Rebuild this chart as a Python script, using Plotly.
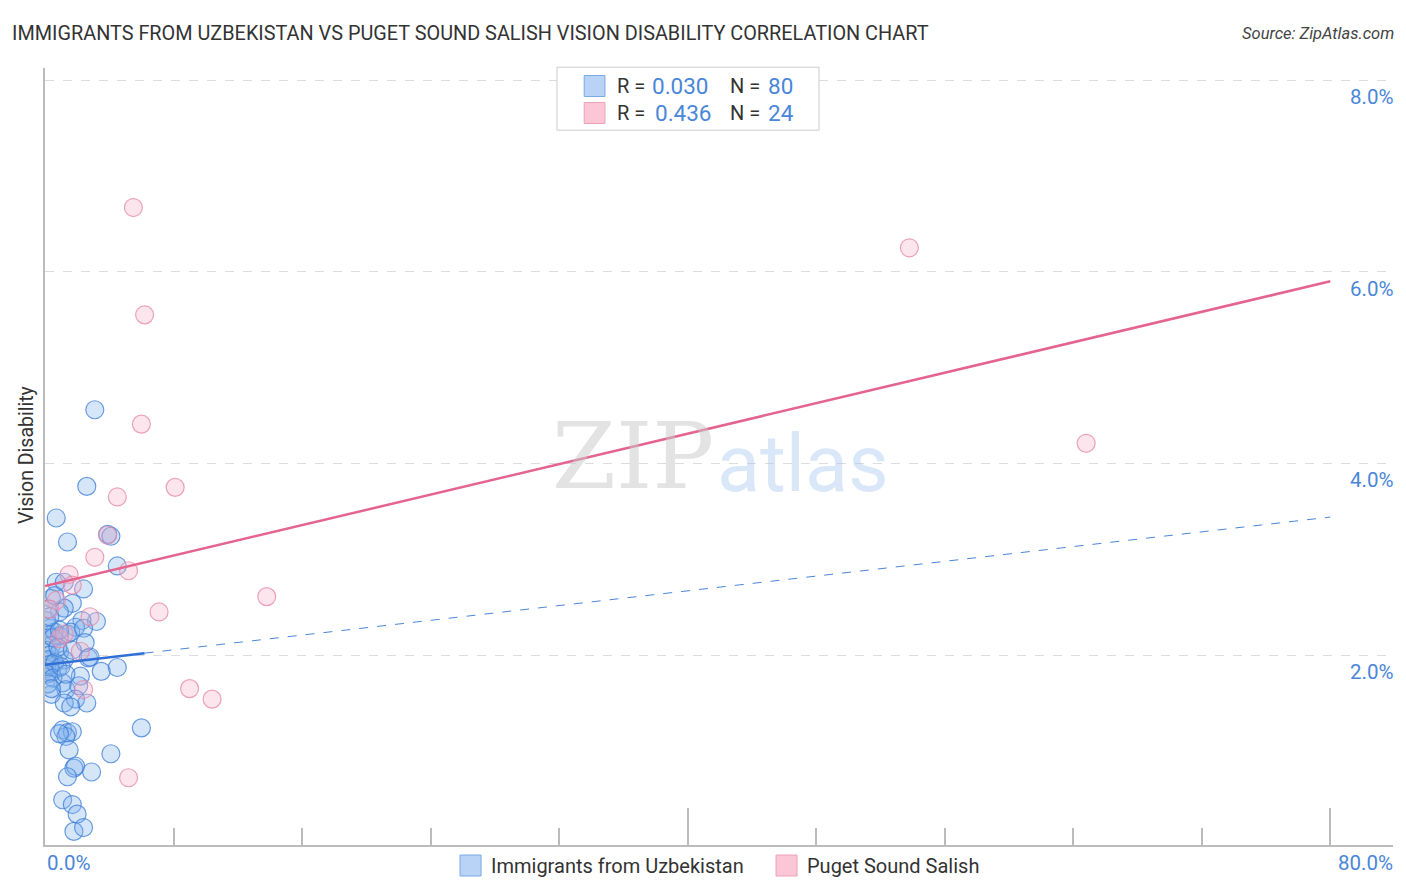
import plotly.graph_objects as go

# chart values
blue_x = [3.1, 2.6, 0.7, 1.4, 3.9, 4.1, 4.5, 0.7, 1.2, 2.4, 0.4, 1.7, 1.2, 0.9, 3.2, 2.3,
          1.9, 0.3, 0.6, 0.9, 1.4, 1.6, 2.4, 0.2, 2.5, 0.4, 0.1, 0.3, 0.2, 2.7, 2.8, 0.9,
          1.2, 0.8, 0.4, 0.1, 3.5, 4.5, 2.2, 1.1, 1.3, 2.1, 0.4, 1.9, 2.6, 1.2, 1.6, 1.1,
          1.4, 1.7, 1.3, 0.9, 6.0, 1.5, 4.1, 1.8, 1.9, 1.4, 2.9, 1.1, 1.7, 2.0, 1.8, 2.4,
          0.1, 0.2, 0.5, 0.3, 0.6, 0.8, 0.1, 0.5, 0.2, 0.9, 1.0, 0.3, 0.6, 1.7, 1.3, 0.4]
blue_y = [4.56, 3.76, 3.43, 3.18, 3.26, 3.24, 2.93, 2.76, 2.76, 2.69, 2.59, 2.54, 2.49, 2.45, 2.35, 2.36,
          2.29, 2.28, 2.24, 2.20, 2.22, 2.24, 2.28, 2.21, 2.13, 2.10, 2.05, 2.00, 1.95, 1.97, 1.98, 2.03,
          1.95, 1.86, 1.82, 1.86, 1.83, 1.87, 1.78, 1.71, 1.64, 1.68, 1.59, 1.54, 1.50, 1.50, 1.46, 1.22,
          1.19, 1.20, 1.15, 1.18, 1.24, 1.01, 0.97, 0.82, 0.84, 0.73, 0.78, 0.49, 0.44, 0.34, 0.16, 0.20,
          2.36, 2.48, 2.18, 1.90, 1.92, 2.08, 1.80, 1.76, 1.70, 2.26, 1.88, 2.40, 2.62, 2.05, 1.80, 1.65]

pink_x = [5.5, 6.2, 6.0, 8.1, 4.5, 3.9, 3.1, 5.2, 1.5, 1.7, 0.7, 13.8,
          7.1, 2.8, 2.2, 2.4, 9.0, 10.4, 5.2, 53.8, 64.8, 0.9, 0.3, 1.2]
pink_y = [6.67, 5.55, 4.41, 3.75, 3.65, 3.25, 3.02, 2.88, 2.84, 2.73, 2.57, 2.61,
          2.45, 2.40, 2.04, 1.64, 1.65, 1.54, 0.72, 6.25, 4.21, 2.17, 2.48, 2.22]

# trend lines (values at start / break / end)
blue_trend_x = [0, 6.2, 80]
blue_trend_y = [1.90, 2.02, 3.44]
pink_trend_x = [0, 80]
pink_trend_y = [2.72, 5.90]

y_ticks = [2, 4, 6, 8]
y_labels = ["2.0%", "4.0%", "6.0%", "8.0%"]
series_names = ["Immigrants from Uzbekistan", "Puget Sound Salish"]
stats = [("0.030", "80"), ("0.436", "24")]

BLUE = "#4a86d8"
FONT = "Roboto"
TXT = "#333333"

# the page body has an 8px margin, so the figure is sized to fit inside the window
W, H = 1398, 884

fig = go.Figure()

fig.add_trace(go.Scatter(
    x=blue_x, y=blue_y, mode="markers",
    marker=dict(size=18, color="rgba(130,178,238,0.33)", line=dict(color="rgba(60,125,215,0.75)", width=1.2))
))
fig.add_trace(go.Scatter(
    x=pink_x, y=pink_y, mode="markers",
    marker=dict(size=18, color="rgba(245,175,198,0.33)", line=dict(color="rgba(230,135,165,0.75)", width=1.2))
))

# trend lines
fig.add_trace(go.Scatter(x=blue_trend_x[1:], y=blue_trend_y[1:], mode="lines",
                         line=dict(color=BLUE, width=1, dash="dash")))
fig.add_trace(go.Scatter(x=blue_trend_x[:2], y=blue_trend_y[:2], mode="lines",
                         line=dict(color="#2f6fd6", width=2.5)))
fig.add_trace(go.Scatter(x=pink_trend_x, y=pink_trend_y, mode="lines",
                         line=dict(color="#e4648e", width=2.5)))

fig.update_layout(
    width=W, height=H,
    margin=dict(l=37, r=13, t=60, b=47),
    paper_bgcolor="white", plot_bgcolor="white",
    font=dict(family=FONT, color=TXT),
    showlegend=False,
    title=dict(text="IMMIGRANTS FROM UZBEKISTAN VS PUGET SOUND SALISH VISION DISABILITY CORRELATION CHART",
               xref="container", x=4 / W, xanchor="left", yref="container", y=1 - 25 / H, yanchor="middle",
               pad=dict(l=0, r=0, t=0, b=0),
               font=dict(size=19.85, color=TXT, family=FONT)),
)

fig.update_xaxes(
    range=[0, 83.9], showgrid=False, zeroline=False, automargin=False,
    showline=True, linecolor="#bbbbbb", linewidth=1.5,
    tickvals=[0, 40, 80], ticks="inside", ticklen=37, tickcolor="#bbbbbb", tickwidth=1.5,
    showticklabels=False,
    minor=dict(dtick=8, ticks="inside", ticklen=17, tickcolor="#bbbbbb", tickwidth=1.5),
)
fig.update_yaxes(
    range=[0.018, 8.126], zeroline=False, automargin=False,
    showgrid=True, gridcolor="#dddddd", griddash="dash", gridwidth=1,
    tickvals=y_ticks, showticklabels=False,
    showline=True, linecolor="#bbbbbb", linewidth=1.5,
)

# y axis title
fig.add_annotation(x=-0.0134, xref="paper", y=0.502, yref="paper", text="Vision Disability",
                   showarrow=False, textangle=-90, xanchor="center", yanchor="middle",
                   font=dict(size=19.5, color=TXT))

# y tick labels on the right, sitting below their gridlines
for v, lab in zip(y_ticks, y_labels):
    fig.add_annotation(x=1.0, xref="paper", y=v, yref="y", text=lab, showarrow=False,
                       xanchor="right", yanchor="middle", yshift=-17, xshift=2,
                       font=dict(size=20.5, color=BLUE))

# x end labels
fig.add_annotation(x=0, xref="x", y=-0.0232, yref="paper", text="0.0%", showarrow=False,
                   xanchor="left", yanchor="middle", font=dict(size=20.5, color=BLUE))
fig.add_annotation(x=1.0, xref="paper", y=-0.0232, yref="paper", text="80.0%", showarrow=False,
                   xanchor="right", yanchor="middle", xshift=2, font=dict(size=20.5, color=BLUE))

# source
fig.add_annotation(x=1.0, xref="paper", y=1.0, yref="paper", text="<i>Source: ZipAtlas.com</i>",
                   showarrow=False, xanchor="right", yanchor="middle", yshift=35, xshift=3,
                   font=dict(size=16.5, color="#444444"))

# watermark
fig.add_annotation(x=0.498, xref="paper", y=0.50, yref="paper", text="ZIP", showarrow=False,
                   xanchor="right", yanchor="middle",
                   font=dict(size=92, color="rgba(200,200,200,0.5)", family="DejaVu Serif"))
fig.add_annotation(x=0.497, xref="paper", y=0.49, yref="paper", text="atlas", showarrow=False,
                   xanchor="left", yanchor="middle",
                   font=dict(size=79, color="rgba(160,195,240,0.4)", family=FONT))

# stats box at the top
fig.add_shape(type="rect", xref="paper", yref="paper", x0=0.3798, x1=0.5742, y0=0.920, y1=1.001,
              line=dict(color="#cccccc", width=1), fillcolor="white")
swatch_fill = ["#b8d3f5", "#fbc6d6"]
swatch_line = ["#7aa8e6", "#eea0b8"]
for i, ((r, n), yy) in enumerate(zip(stats, [0.9768, 0.9421])):
    fig.add_shape(type="rect", xref="paper", yref="paper", x0=0.400, x1=0.4154, y0=yy - 0.0135, y1=yy + 0.0135,
                  line=dict(color=swatch_line[i], width=1), fillcolor=swatch_fill[i])
    fig.add_annotation(x=0.4228, xref="paper", y=yy, yref="paper", text="R = ", showarrow=False,
                       xanchor="left", yanchor="middle", font=dict(size=20, color=TXT))
    fig.add_annotation(x=0.4485 + 0.0022 * i, xref="paper", y=yy, yref="paper", text=r, showarrow=False,
                       xanchor="left", yanchor="middle", font=dict(size=22.5, color=BLUE))
    fig.add_annotation(x=0.5065, xref="paper", y=yy, yref="paper", text="N = ", showarrow=False,
                       xanchor="left", yanchor="middle", font=dict(size=20, color=TXT))
    fig.add_annotation(x=0.5345, xref="paper", y=yy, yref="paper", text=n, showarrow=False,
                       xanchor="left", yanchor="middle", font=dict(size=22.5, color=BLUE))

# bottom legend
legend_x = [0.3079, 0.5423]
for i, name in enumerate(series_names):
    fig.add_shape(type="rect", xref="paper", yref="paper", x0=legend_x[i], x1=legend_x[i] + 0.0156,
                  y0=-0.0399, y1=-0.0129, line=dict(color=swatch_line[i], width=1), fillcolor=swatch_fill[i])
    fig.add_annotation(x=legend_x[i] + 0.0215, xref="paper", y=-0.0264, yref="paper", text=name,
                       showarrow=False, xanchor="left", yanchor="middle", font=dict(size=20, color=TXT))

fig.write_html("out.html")
